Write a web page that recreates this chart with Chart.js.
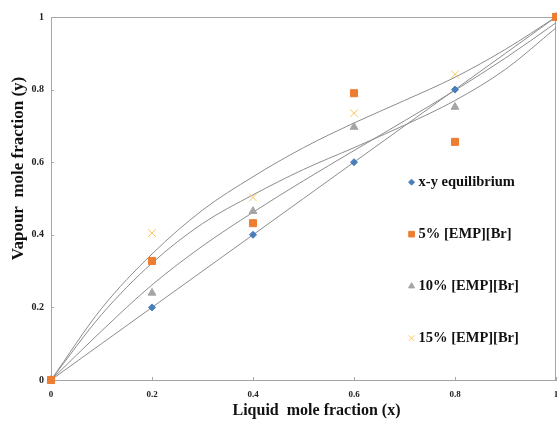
<!DOCTYPE html>
<html><head><meta charset="utf-8">
<style>html,body{margin:0;padding:0;background:#fff;}#wrap{width:557px;height:423px;}</style>
<script src="https://cdn.jsdelivr.net/npm/chart.js@4/dist/chart.umd.min.js"></script>
</head><body><div id="wrap"><canvas id="c" width="557" height="423"></canvas></div>
<script>
// ---- data ----
const xValues = [0, 0.2, 0.4, 0.6, 0.8, 1];
const yEquilibrium = [0, 0.2, 0.4, 0.6, 0.8, 1];
const y5 = [0, 0.328, 0.432, 0.79, 0.656, 1];
const y10 = [0, 0.24, 0.465, 0.697, 0.752, 1];
const y15 = [0, 0.405, 0.503, 0.735, 0.842, 1];
// trend curves
const trendX = [0, 0.1, 0.2, 0.3, 0.4, 0.5, 0.6, 0.7, 0.8, 0.9, 1];
const trendEq = [0, 0.1, 0.2, 0.3, 0.4, 0.5, 0.6, 0.7, 0.8, 0.9, 1];
const trend5 = [0, 0.180, 0.322, 0.431, 0.510, 0.580, 0.640, 0.702, 0.770, 0.856, 0.970];
const trend10 = [0, 0.135, 0.262, 0.369, 0.462, 0.549, 0.632, 0.714, 0.798, 0.887, 0.984];
const trend15 = [0, 0.197, 0.347, 0.468, 0.560, 0.640, 0.708, 0.770, 0.834, 0.911, 1.0];
const xTicks = [0, 0.2, 0.4, 0.6, 0.8, 1];
const yTicks = [0, 0.2, 0.4, 0.6, 0.8, 1];
const seriesNames = ['x-y equilibrium', '5% [EMP][Br]', '10% [EMP][Br]', '15% [EMP][Br]'];
const xTitle = 'Liquid  mole fraction (x)';
const yTitle = 'Vapour  mole fraction (y)';

const SERIF = '"Liberation Serif", "Times New Roman", serif';
const pts = (xs, ys) => xs.map((x, i) => ({x: x, y: ys[i]}));

const markerStyles = [
  {pointStyle: 'rectRot', radius: 3.5, color: '#4a7ebb', order: 1, legendRadius: 3},
  {pointStyle: 'rect', radius: 5, color: '#ed7d31', order: 0, legendRadius: 4},
  {pointStyle: 'triangle', radius: 4.5, color: '#a5a5a5', order: 2, legendRadius: 3.5},
  {pointStyle: 'crossRot', radius: 5.5, color: '#fcc65e', order: 3, legendRadius: 4}
];
const markerData = [yEquilibrium, y5, y10, y15];
const trendData = [trendEq, trend5, trend10, trend15];

const datasets = [];
markerData.forEach((ys, i) => {
  const s = markerStyles[i];
  datasets.push({
    label: seriesNames[i], data: pts(xValues, ys), showLine: false,
    pointStyle: s.pointStyle, pointRadius: s.radius, pointHoverRadius: s.radius,
    backgroundColor: s.color, borderColor: s.color, pointBorderWidth: 1,
    order: s.order, clip: false
  });
});
trendData.forEach((ys) => {
  datasets.push({
    label: '', data: pts(trendX, ys), showLine: true, pointRadius: 0,
    borderColor: '#8c8c8c', borderWidth: 1, cubicInterpolationMode: 'monotone',
    order: 4, fill: false
  });
});

const deco = {
  id: 'deco',
  beforeDatasetsDraw(chart) {
    const {ctx, chartArea: a, scales} = chart;
    ctx.save();
    ctx.strokeStyle = '#a6a6a6';
    ctx.lineWidth = 1;
    ctx.beginPath();
    ctx.moveTo(a.left, a.top + 0.5); ctx.lineTo(a.right - 0.5, a.top + 0.5); ctx.lineTo(a.right - 0.5, a.bottom);
    xTicks.forEach(v => { const px = Math.round(scales.x.getPixelForValue(v)) + 0.5; ctx.moveTo(px, a.bottom); ctx.lineTo(px, a.bottom - 3); });
    yTicks.forEach(v => { const py = Math.round(scales.y.getPixelForValue(v)) + 0.5; ctx.moveTo(a.left, py); ctx.lineTo(a.left + 3, py); });
    ctx.stroke();
    ctx.restore();
  },
  afterDraw(chart) {
    const {ctx, chartArea: a} = chart;
    ctx.save();
    ctx.fillStyle = '#111';
    ctx.textAlign = 'center';
    ctx.textBaseline = 'middle';
    ctx.font = 'bold 16px ' + SERIF;
    ctx.fillText(xTitle, (a.left + a.right) / 2 + 13, a.bottom + 31);
    ctx.save();
    ctx.font = 'bold 17px ' + SERIF;
    ctx.translate(a.left - 32, (a.top + a.bottom) / 2 - 30);
    ctx.rotate(-Math.PI / 2);
    ctx.fillText(yTitle, 0, 0);
    ctx.restore();
    // legend inside the plot
    const lx = a.left + (a.right - a.left) * 0.714;
    const ly0 = a.top + (a.bottom - a.top) * 0.455;
    const step = 52;
    ctx.font = 'bold 14.5px ' + SERIF;
    ctx.textAlign = 'left';
    seriesNames.forEach((name, i) => {
      const s = markerStyles[i];
      const y = ly0 + i * step;
      ctx.fillStyle = s.color; ctx.strokeStyle = s.color; ctx.lineWidth = 1;
      Chart.helpers.drawPoint(ctx, {pointStyle: s.pointStyle, radius: s.legendRadius, rotation: 0, borderWidth: 1}, lx, y);
      ctx.fillStyle = '#111';
      ctx.fillText(name, lx + 7, y);
    });
    ctx.restore();
  }
};

const fitScale = (w, h) => (s) => {
  if (w !== null) s.width = w;
  if (h !== null) s.height = h;
  s.paddingLeft = 0; s.paddingRight = 0; s.paddingTop = 0; s.paddingBottom = 0;
};

new Chart(document.getElementById('c'), {
  type: 'scatter',
  data: {datasets: datasets},
  options: {
    responsive: false, animation: false, devicePixelRatio: 1,
    events: [],
    layout: {autoPadding: false, padding: {left: 0, top: 17, right: 1, bottom: 0}},
    plugins: {legend: {display: false}, tooltip: {enabled: false}, title: {display: false}},
    scales: {
      x: {
        type: 'linear', min: 0, max: 1,
        afterBuildTicks: (s) => { s.ticks = xTicks.map(v => ({value: v})); },
        afterFit: fitScale(null, 43),
        grid: {display: false, drawTicks: false},
        border: {display: true, color: '#a6a6a6', width: 1},
        ticks: {font: {family: SERIF, size: 9, weight: 'bold'}, color: '#222', padding: 9, maxRotation: 0,
                callback: (v) => String(v)}
      },
      y: {
        type: 'linear', min: 0, max: 1,
        afterBuildTicks: (s) => { s.ticks = yTicks.map(v => ({value: v})); },
        afterFit: fitScale(51, null),
        grid: {display: false, drawTicks: false},
        border: {display: true, color: '#a6a6a6', width: 1},
        ticks: {font: {family: SERIF, size: 10, weight: 'bold'}, color: '#222', padding: 7,
                callback: (v) => String(v)}
      }
    }
  },
  plugins: [deco]
});
</script>
</body></html>
